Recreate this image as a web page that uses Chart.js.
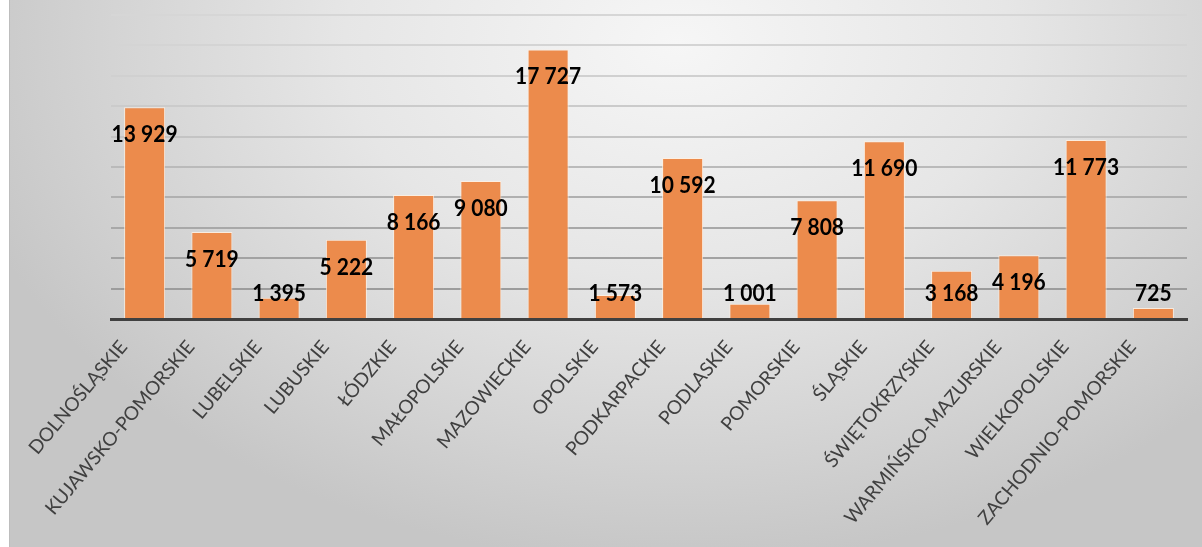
<!DOCTYPE html>
<html>
<head>
<meta charset="utf-8">
<script src="https://cdn.jsdelivr.net/npm/chart.js@4"></script>
<style>
  html, body { margin: 0; padding: 0; background: #ffffff; }
  #wrap { position: relative; width: 1202px; height: 547px; overflow: hidden; }
  #bg { position: absolute; left: 9px; top: 0; width: 1193px; height: 547px;
        border-left: 1px solid #bdbdbd; box-sizing: border-box;
        background: radial-gradient(ellipse 62% 95% at 56% 8%, #f6f6f6 0%, #e6e6e6 45%, #d2d2d2 80%, #c6c6c6 100%); }
  canvas { position: absolute; left: 0; top: 0; }
</style>
</head>
<body>
<div id="wrap">
  <div id="bg"></div>
  <canvas id="c" width="1202" height="547"></canvas>
</div>
<script>
const categories = ["DOLNOŚLĄSKIE", "KUJAWSKO-POMORSKIE", "LUBELSKIE", "LUBUSKIE", "ŁÓDZKIE",
  "MAŁOPOLSKIE", "MAZOWIECKIE", "OPOLSKIE", "PODKARPACKIE", "PODLASKIE", "POMORSKIE",
  "ŚLĄSKIE", "ŚWIĘTOKRZYSKIE", "WARMIŃSKO-MAZURSKIE", "WIELKOPOLSKIE", "ZACHODNIO-POMORSKIE"];
const values = [13929, 5719, 1395, 5222, 8166, 9080, 17727, 1573, 10592, 1001, 7808, 11690, 3168, 4196, 11773, 725];
const yMax = 20000;
const yStep = 2000;

function fmt(v) { return String(v).replace(/\B(?=(\d{3})+(?!\d))/g, " "); }

const gridShades = {2000:'#9c9c9c',4000:'#a2a2a2',6000:'#a8a8a8',8000:'#b0b0b0',10000:'#bababa',
  12000:'#c4c4c4',14000:'#cbcbcb',16000:'#d0d0d0',18000:'#d4d4d4',20000:'#d6d6d6'};

const labelPlugin = {
  id: 'valueLabels',
  afterDatasetsDraw(chart) {
    const ctx = chart.ctx;
    const meta = chart.getDatasetMeta(0);
    ctx.save();
    ctx.font = 'bold 21px Lato, "DejaVu Sans", sans-serif';
    ctx.fillStyle = '#000000';
    ctx.textAlign = 'center';
    ctx.textBaseline = 'middle';
    meta.data.forEach((bar, i) => {
      const y = Math.min(bar.y + 27.5, bar.base - 24.5);
      ctx.save();
      ctx.translate(bar.x, y);
      ctx.scale(1, 1.1);
      ctx.fillText(fmt(values[i]), 0, 0);
      ctx.restore();
    });
    ctx.restore();
  }
};

new Chart(document.getElementById('c'), {
  type: 'bar',
  data: {
    labels: categories,
    datasets: [{
      data: values,
      backgroundColor: '#ec8b4c',
      borderColor: 'rgba(255,240,225,0.85)',
      borderWidth: 1,
      categoryPercentage: 1.0,
      barPercentage: 0.61
    }]
  },
  options: {
    responsive: false,
    animation: false,
    events: [],
    layout: { padding: { left: 111, right: 15, top: 15, bottom: 0 } },
    plugins: { legend: { display: false }, tooltip: { enabled: false } },
    scales: {
      x: {
        grid: { display: false },
        border: { display: true, color: '#404040', width: 3 },
        ticks: {
          autoSkip: false,
          minRotation: 50,
          maxRotation: 50,
          color: '#404040',
          font: { family: 'Lato', size: 19 },
          labelOffset: -21,
          padding: 9
        },
        afterFit(scale) { scale.height = 228; }
      },
      y: {
        min: 0,
        max: yMax,
        ticks: { display: false, stepSize: yStep },
        border: { display: false },
        grid: {
          drawTicks: false,
          lineWidth: 2,
          color: (c) => c.tick && c.tick.value === 0 ? 'rgba(0,0,0,0)' : (gridShades[c.tick.value] || '#bbbbbb')
        },
        afterFit(scale) { scale.width = 0; }
      }
    }
  },
  plugins: [labelPlugin]
});
</script>
</body>
</html>
